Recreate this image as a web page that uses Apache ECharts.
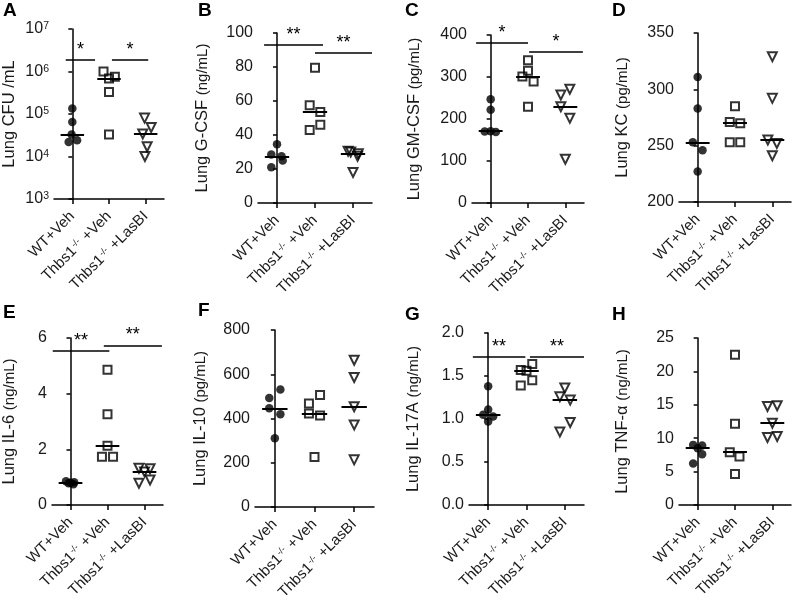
<!DOCTYPE html>
<html>
<head>
<meta charset="utf-8">
<script src="https://cdn.jsdelivr.net/npm/echarts@6/dist/echarts.min.js"></script>
<style>
  html, body { margin: 0; padding: 0; background: #fff; }
  #main { width: 793px; height: 607px; }
</style>
</head>
<body>
<div id="main"></div>
<script>
// ---------- DATA ----------
const groupLabels = ['WT+Veh', 'Thbs1{s|-/-} +Veh', 'Thbs1{s|-/-} +LasBI'];

// A: Lung CFU /mL (log)
const cfuValues = [[135000, 65000, 33000, 24000, 22000], [1000000, 750000, 680000, 330000, 33000], [80000, 48000, 34000, 17000, 10000]];
const cfuOffsets = [[0, 0, -0.02, 0.13, -0.1], [-0.15, 0.16, 0, 0, 0], [-0.03, 0.15, -0.08, 0.04, -0.02]];
const cfuSig = [[-0.18, 0.62, 1900000, '*'], [1.08, 2.07, 1900000, '*']];

// B: Lung G-CSF (ng/mL)
const gcsfValues = [[34.5, 28.5, 27.5, 25, 21], [79.5, 57.5, 53.5, 46, 43], [30.5, 30, 29, 27.5, 18]];
const gcsfOffsets = [[0, -0.15, 0.12, 0.15, -0.15], [0, -0.14, 0.14, 0.14, -0.14], [-0.13, -0.06, 0.14, 0.12, 0]];
const gcsfSig = [[-0.34, 1.21, 93, '**'], [1.0, 2.5, 88.4, '**']];

// C: Lung GM-CSF (pg/mL)
const gmcsfValues = [[247, 222, 171, 170, 169], [340, 315, 301, 289, 229], [271, 257, 229, 202, 104]];
const gmcsfOffsets = [[0, 0, 0, -0.16, 0.14], [0, 0, -0.15, 0.15, 0], [0.12, -0.12, -0.12, 0.12, 0]];
const gmcsfSig = [[-0.39, 1.0, 382, '*'], [1.03, 2.47, 360, '*']];

// D: Lung KC (pg/mL)
const kcValues = [[311, 283, 253, 246, 227], [285, 271, 270, 253, 253], [329, 292, 255, 252, 241]];
const kcOffsets = [[0, 0, -0.13, 0.13, 0], [0, -0.14, 0.14, -0.14, 0.14], [0, 0, -0.12, 0.12, 0]];
const kcSig = [];

// E: Lung IL-6 (ng/mL)
const il6Values = [[0.85, 0.82, 0.8, 0.78, 0.75], [4.86, 3.26, 2.13, 1.73, 1.73], [1.32, 1.3, 1.19, 0.9, 0.78]];
const il6Offsets = [[-0.12, 0.1, 0, -0.05, 0.08], [0, 0, 0, -0.15, 0.15], [-0.15, 0.15, 0, 0.15, -0.15]];
const il6Sig = [[-0.48, 1.05, 5.54, '**'], [0.9, 2.47, 5.73, '**']];

// F: Lung IL-10 (pg/mL)
const il10Values = [[531, 493, 446, 419, 311], [506, 468, 423, 413, 226], [663, 585, 453, 371, 213]];
const il10Offsets = [[0.14, -0.14, -0.14, 0.14, 0], [0.14, -0.14, -0.14, 0.14, 0], [0, 0, 0, 0, 0]];
const il10Sig = [];

// G: Lung IL-17A (ng/mL)
const il17Values = [[1.38, 1.11, 1.05, 1.03, 0.97], [1.64, 1.57, 1.56, 1.45, 1.39], [1.36, 1.26, 1.22, 0.96, 0.85]];
const il17Offsets = [[0, 0, -0.13, 0.13, 0], [0.15, -0.15, 0, 0.15, -0.15], [0, -0.13, 0.14, 0.14, -0.13]];
const il17Sig = [[-0.4, 0.97, 1.72, '**'], [1.09, 2.5, 1.72, '**']];

// H: Lung TNF-α (ng/mL)
const tnfValues = [[9.0, 8.9, 8.5, 7.6, 6.2], [22.5, 12.15, 7.9, 7.25, 4.65], [14.85, 14.75, 12.25, 10.25, 10.1]];
const tnfOffsets = [[-0.12, 0.12, 0, 0.12, -0.12], [0, 0, -0.14, 0.12, 0], [0.13, -0.13, 0, 0.13, -0.13]];
const tnfSig = [];

// ---------- LAYOUT / STYLE ----------
const FONT = "'Liberation Sans', Arial, Helvetica, sans-serif";
const panels = [
  { letter: 'A', lp: [3, 1],   box: [52, 29, 112, 170],  nameGap: 36, name: 'Lung CFU /mL', unit: '', log: true, min: 1000, max: 10000000, values: cfuValues, offsets: cfuOffsets, sig: cfuSig },
  { letter: 'B', lp: [198, 1], box: [258, 33, 114, 170], nameGap: 47, name: 'Lung G-CSF ', unit: '(ng/mL)', min: 0, max: 100, interval: 20, values: gcsfValues, offsets: gcsfOffsets, sig: gcsfSig },
  { letter: 'C', lp: [405, 1], box: [472, 35, 112, 168], nameGap: 49, name: 'Lung GM-CSF ', unit: '(pg/mL)', min: 0, max: 400, interval: 100, values: gmcsfValues, offsets: gmcsfOffsets, sig: gmcsfSig },
  { letter: 'D', lp: [612, 1], box: [679, 33, 112, 169], nameGap: 48, name: 'Lung KC ', unit: '(pg/mL)', min: 200, max: 350, interval: 50, values: kcValues, offsets: kcOffsets, sig: kcSig },
  { letter: 'E', lp: [3, 303], box: [52, 338, 111, 167], nameGap: 34, name: 'Lung IL-6 ', unit: '(ng/mL)', min: 0, max: 6, interval: 2, values: il6Values, offsets: il6Offsets, sig: il6Sig },
  { letter: 'F', lp: [198, 301], box: [255, 330, 119, 177], nameGap: 46, name: 'Lung IL-10 ', unit: '(pg/mL)', min: 0, max: 800, interval: 200, values: il10Values, offsets: il10Offsets, sig: il10Sig },
  { letter: 'G', lp: [405, 305], box: [469, 333, 115, 172], nameGap: 47, name: 'Lung IL-17A ', unit: '(ng/mL)', min: 0, max: 2, interval: 0.5, fixed: 1, values: il17Values, offsets: il17Offsets, sig: il17Sig },
  { letter: 'H', lp: [612, 305], box: [679, 338, 112, 167], nameGap: 48, name: 'Lung TNF-\u03b1 ', unit: '(ng/mL)', min: 0, max: 25, interval: 5, values: tnfValues, offsets: tnfOffsets, sig: tnfSig }
];

const symbols = [
  { symbol: 'circle', size: 8.5, itemStyle: { color: '#000', borderWidth: 0 }, rotate: 0 },
  { symbol: 'rect', size: 8, itemStyle: { color: 'rgba(255,255,255,0)', borderColor: '#000', borderWidth: 2 }, rotate: 0 },
  { symbol: 'triangle', size: 9, itemStyle: { color: 'rgba(255,255,255,0)', borderColor: '#000', borderWidth: 2 }, rotate: 180 }
];

function median(arr) {
  const s = arr.slice().sort((a, b) => a - b);
  return s[Math.floor(s.length / 2)];
}

const grids = [], xAxes = [], yAxes = [], series = [], titles = [];

panels.forEach((p, i) => {
  grids.push({ left: p.box[0], top: p.box[1], width: p.box[2], height: p.box[3] });
  titles.push({ text: p.letter, left: p.lp[0], top: p.lp[1], padding: 0,
    textStyle: { fontFamily: FONT, fontWeight: 'bold', fontSize: 19, color: '#000' } });

  xAxes.push({
    type: 'value', gridIndex: i, min: -0.5, max: 2.5,
    splitLine: { show: false },
    axisLine: { show: true, onZero: false, lineStyle: { color: '#000', width: 1.5 } },
    axisTick: { show: true, customValues: [0, 1, 2], length: 5, lineStyle: { color: '#000', width: 1.5 } },
    axisLabel: {
      customValues: [0, 1, 2], rotate: 45, margin: 15,
      fontFamily: FONT, fontSize: 15, color: '#1a1a1a',
      formatter: v => groupLabels[Math.round(v)],
      rich: { s: { fontFamily: FONT, fontSize: 9, color: '#1a1a1a', verticalAlign: 'top', lineHeight: 9, padding: [0, 1, 0, 1] } }
    }
  });

  const yAx = {
    gridIndex: i, min: p.min, max: p.max,
    name: p.unit ? '{m|' + p.name + '}{u|' + p.unit + '}' : '{m|' + p.name + '}',
    nameLocation: 'middle', nameGap: p.nameGap,
    nameTextStyle: {
      rich: {
        m: { fontFamily: FONT, fontSize: 16.5, color: '#1a1a1a' },
        u: { fontFamily: FONT, fontSize: 15, color: '#1a1a1a' }
      }
    },
    splitLine: { show: false },
    axisLine: { show: true, lineStyle: { color: '#000', width: 1.5 } },
    axisTick: { show: true, length: 4, lineStyle: { color: '#000', width: 1.5 } },
    axisLabel: { fontFamily: FONT, fontSize: 16, color: '#1a1a1a', margin: 5 }
  };
  if (p.log) {
    yAx.type = 'log';
    yAx.logBase = 10;
    yAx.axisLabel.formatter = v => '10{s|' + Math.round(Math.log10(v)) + '}';
    yAx.axisLabel.rich = { s: { fontFamily: FONT, fontSize: 10.5, color: '#1a1a1a', verticalAlign: 'top', lineHeight: 10 } };
  } else {
    yAx.type = 'value';
    yAx.interval = p.interval;
    yAx.axisLabel.formatter = v => p.fixed ? v.toFixed(p.fixed) : String(v);
  }
  yAxes.push(yAx);

  p.values.forEach((vals, g) => {
    const sym = symbols[g];
    const med = median(vals);
    const mlData = [[
      { coord: [g - 0.32, med], lineStyle: { color: '#000', width: 2, type: 'solid' }, label: { show: false } },
      { coord: [g + 0.32, med] }
    ]];
    if (g === 0) {
      p.sig.forEach(s => {
        mlData.push([
          { coord: [s[0], s[2]], lineStyle: { color: '#000', width: 1.5, type: 'solid' },
            label: { show: true, formatter: s[3], position: 'insideMiddleTop', distance: 1,
              fontFamily: FONT, fontSize: 18, color: '#000' } },
          { coord: [s[1], s[2]] }
        ]);
      });
    }
    series.push({
      type: 'scatter', xAxisIndex: i, yAxisIndex: i,
      symbol: sym.symbol, symbolSize: sym.size, symbolRotate: sym.rotate,
      itemStyle: sym.itemStyle,
      data: vals.map((v, k) => [g + p.offsets[g][k], v]),
      z: 3, silent: true, animation: false,
      markLine: {
        silent: true, symbol: ['none', 'none'], animation: false, precision: 10,
        data: mlData
      }
    });
  });
});

const chart = echarts.init(document.getElementById('main'), null, { renderer: 'canvas' });
chart.setOption({
  backgroundColor: '#fff',
  animation: false,
  title: titles,
  grid: grids,
  xAxis: xAxes,
  yAxis: yAxes,
  series: series
});
</script>
</body>
</html>
